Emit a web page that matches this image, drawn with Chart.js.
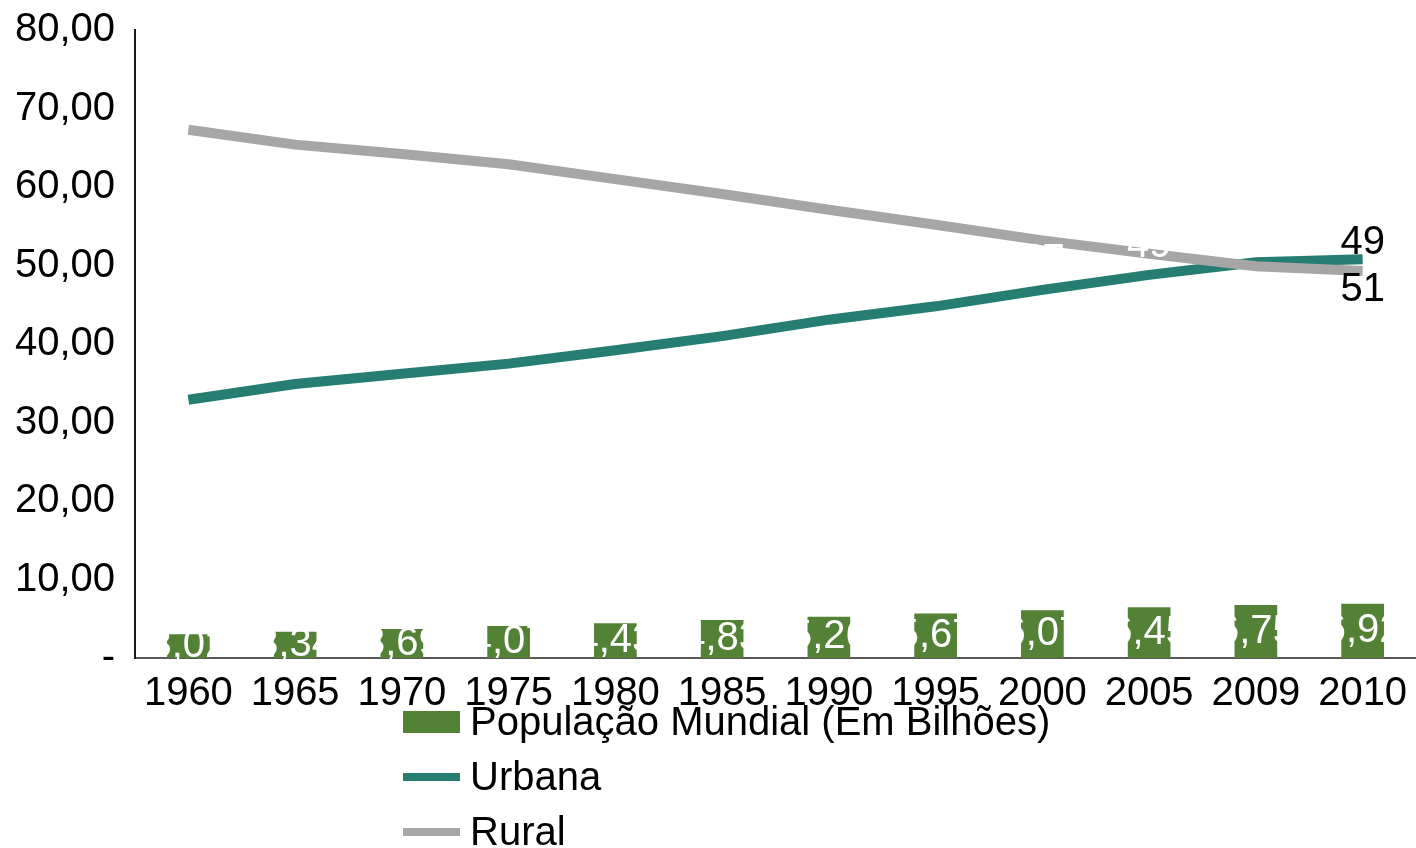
<!DOCTYPE html>
<html>
<head>
<meta charset="utf-8">
<script src="https://cdn.jsdelivr.net/npm/chart.js@4/dist/chart.umd.min.js"></script>
<style>
  body { margin: 0; background: #ffffff; }
  #caixa { width: 1416px; height: 848px; position: relative; }
</style>
</head>
<body>
<div id="caixa"><canvas id="grafico"></canvas></div>
<script>
// dados
const anos = ['1960', '1965', '1970', '1975', '1980', '1985', '1990', '1995', '2000', '2005', '2009', '2010'];
const populacao = [3.02, 3.34, 3.69, 4.07, 4.43, 4.83, 5.26, 5.67, 6.07, 6.45, 6.75, 6.92];
const urbana = [32.9, 34.9, 36.2, 37.5, 39.2, 41.0, 43.1, 44.8, 46.9, 48.8, 50.4, 50.8];
const rural = [67.3, 65.4, 64.2, 62.9, 61.0, 59.1, 57.1, 55.2, 53.2, 51.5, 49.9, 49.3];
const nomesSeries = ['População Mundial (Em Bilhões)', 'Urbana', 'Rural'];
const ticksY = [0, 10, 20, 30, 40, 50, 60, 70, 80];

const corBarra = '#538135';
const corUrbana = '#267D72';
const corRural = '#A6A6A6';
const fonte = '"Liberation Sans", Arial, sans-serif';

function formatar(v) {
    return v.toFixed(2).replace('.', ',');
}

// rotulos dos dados (brancos dentro das barras, e os finais das linhas)
const rotulos = {
    id: 'rotulos',
    afterDatasetsDraw(chart) {
        const ctx = chart.ctx;
        ctx.save();
        ctx.font = '40px ' + fonte;
        ctx.textAlign = 'center';
        ctx.textBaseline = 'middle';
        ctx.fillStyle = '#ffffff';

        chart.getDatasetMeta(0).data.forEach((bar, i) => {
            ctx.fillText(formatar(populacao[i]), bar.x, (bar.y + bar.base) / 2);
        });

        // os rotulos brancos da urbana so aparecem onde cruzam a linha cinza
        const urb = chart.getDatasetMeta(1).data;
        const rur = chart.getDatasetMeta(2).data;
        for (var i = 0; i < urb.length - 1; i++) {
            ctx.fillText(String(Math.round(urbana[i])), urb[i].x, urb[i].y - 29);
        }
        const n = urb.length - 1;
        ctx.fillStyle = '#000000';
        ctx.fillText(String(Math.round(rural[n])), rur[n].x, rur[n].y - 28);
        ctx.fillText(String(Math.round(urbana[n])), urb[n].x, urb[n].y + 31);
        ctx.restore();
    }
};

// legenda em coluna, embaixo
const legenda = {
    id: 'legenda',
    afterDraw(chart) {
        const ctx = chart.ctx;
        ctx.save();
        ctx.font = '40px ' + fonte;
        ctx.textBaseline = 'middle';
        ctx.textAlign = 'left';
        const cores = [corBarra, corUrbana, corRural];
        for (var i = 0; i < nomesSeries.length; i++) {
            const y = 722 + i * 55;
            ctx.fillStyle = cores[i];
            if (i === 0) {
                ctx.fillRect(403, y - 11, 57, 22);
            } else {
                ctx.fillRect(403, y - 4, 57, 8);
            }
            ctx.fillStyle = '#000000';
            ctx.fillText(nomesSeries[i], 470, y + 2);
        }
        ctx.restore();
    }
};

new Chart(document.getElementById('grafico'), {
    type: 'bar',
    data: {
        labels: anos,
        datasets: [
            {
                type: 'bar',
                label: nomesSeries[0],
                data: populacao,
                backgroundColor: corBarra,
                barPercentage: 0.8,
                categoryPercentage: 0.5,
                order: 2
            },
            {
                type: 'line',
                label: nomesSeries[1],
                data: urbana,
                borderColor: corUrbana,
                backgroundColor: corUrbana,
                borderWidth: 10,
                pointRadius: 0,
                tension: 0,
                order: 1
            },
            {
                type: 'line',
                label: nomesSeries[2],
                data: rural,
                borderColor: corRural,
                backgroundColor: corRural,
                borderWidth: 10,
                pointRadius: 0,
                tension: 0,
                order: 0
            }
        ]
    },
    options: {
        responsive: true,
        maintainAspectRatio: false,
        animation: false,
        layout: { padding: { top: 30, right: 0, left: 0, bottom: 0 } },
        plugins: {
            legend: { display: false },
            tooltip: { enabled: false }
        },
        scales: {
            x: {
                offset: true,
                grid: { display: false, drawTicks: false },
                border: { display: true, color: '#595959', width: 2 },
                ticks: { color: '#000000', font: { size: 40, family: fonte }, padding: 12, maxRotation: 0, autoSkip: false },
                afterFit(scale) {
                    scale.height = 190;
                    scale.paddingLeft = 0;
                    scale.paddingRight = 0;
                }
            },
            y: {
                min: 0,
                max: 80,
                afterBuildTicks(scale) { scale.ticks = ticksY.map(v => ({ value: v })); },
                grid: { display: false, drawTicks: false },
                border: { display: true, color: '#1a1a1a', width: 2 },
                ticks: {
                    color: '#000000',
                    font: { size: 40, family: fonte },
                    padding: 20,
                    callback: v => v === 0 ? '-' : formatar(v)
                },
                afterFit(scale) {
                    scale.width = 135;
                    scale.paddingTop = 0;
                    scale.paddingBottom = 0;
                }
            }
        }
    },
    plugins: [rotulos, legenda]
});
</script>
</body>
</html>
